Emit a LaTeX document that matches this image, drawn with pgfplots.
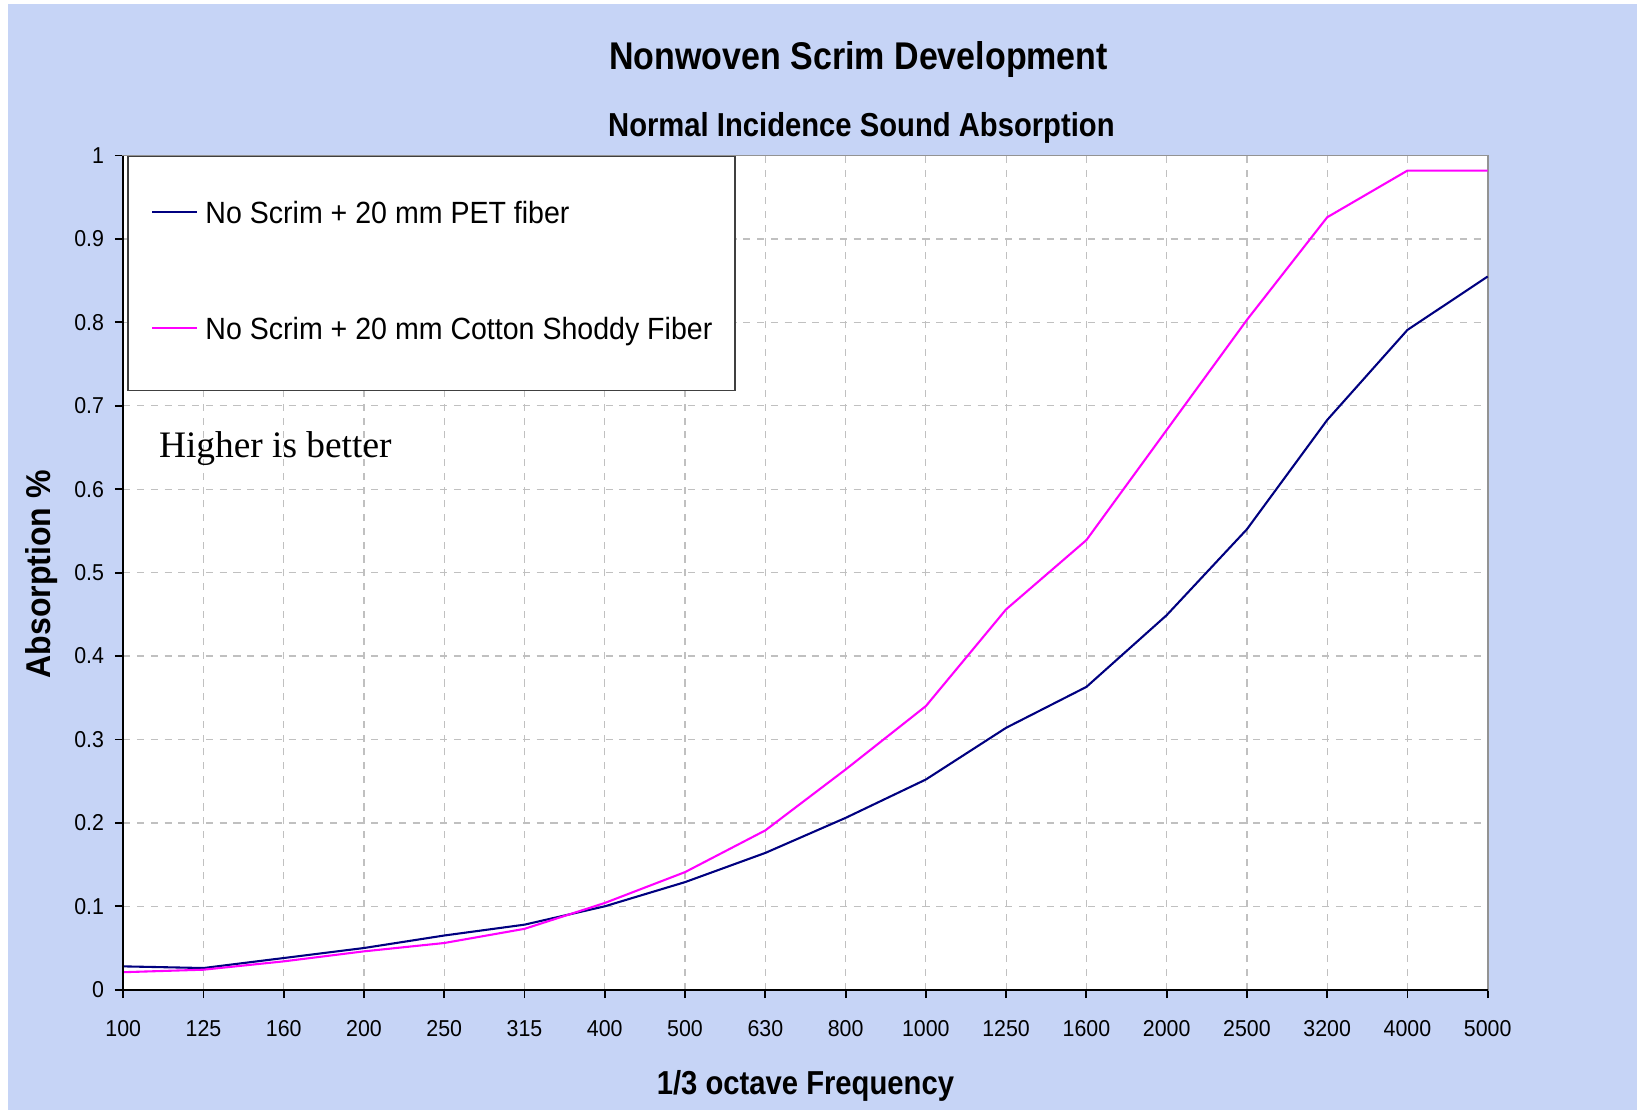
\documentclass[border=0pt]{standalone}
\usepackage{pgfplots}
\pgfplotsset{compat=1.18}
\usepackage{fontspec}
\setmainfont{Liberation Sans}
\newfontfamily\timesfont{Liberation Serif}
\newfontfamily\condfont[FakeStretch=0.88]{Liberation Sans}
\newfontfamily\legfont[FakeStretch=0.93]{Liberation Sans}
\definecolor{bgcol}{RGB}{198,212,246}
\definecolor{pet}{RGB}{0,0,128}
\definecolor{cot}{RGB}{255,0,255}
\definecolor{gridc}{RGB}{192,192,192}
\begin{document}
\begin{tikzpicture}
\fill[white] (0pt,0pt) rectangle (784pt,533.5pt);
\fill[bgcol] (4pt,2pt) rectangle (784pt,531.5pt);
\begin{axis}[
  at={(59pt,59.5pt)}, anchor=south west,
  scale only axis, width=653.5pt, height=399.5pt,
  xmin=0, xmax=17, ymin=0, ymax=1,
  clip=false,
  axis background/.style={fill=white},
  xtick={0,1,...,17},
  xticklabels={100,125,160,200,250,315,400,500,630,800,1000,1250,1600,2000,2500,3200,4000,5000},
  ytick={0,0.1,0.2,0.3,0.4,0.5,0.6,0.7,0.8,0.9,1},
  yticklabels={0,0.1,0.2,0.3,0.4,0.5,0.6,0.7,0.8,0.9,1},
  xtick pos=bottom, ytick pos=left,
  tick align=outside, major tick length=4pt,
  tick style={black, line width=0.9pt},
  ticklabel style={font=\legfont\fontsize{11}{13}\selectfont},
  xticklabel style={inner sep=0pt, anchor=north, yshift=-10.5pt},
  yticklabel style={inner sep=0pt, anchor=east, xshift=-5pt},
  grid=major,
  major grid style={gridc, line width=0.6pt, dash pattern=on 3.4pt off 3.2pt},
  axis line style={draw=gray!85, line width=0.9pt},
  title={Nonwoven Scrim Development},
  title style={at={(rel axis cs:0.539,1)}, anchor=base, yshift=35pt, inner sep=0pt, font=\condfont\bfseries\fontsize{18.5}{21}\selectfont},
  xlabel={1/3 octave Frequency},
  xlabel style={at={(rel axis cs:0.5,0)}, anchor=base, yshift=-50pt, inner sep=0pt, font=\condfont\bfseries\fontsize{15.9}{18}\selectfont},
  ylabel={Absorption \%},
  ylabel style={at={(rel axis cs:0,0.498)}, anchor=center, yshift=39pt, inner sep=0pt, font=\legfont\bfseries\fontsize{16.5}{19}\selectfont},
  legend style={at={(rel axis cs:0.00306,1)}, anchor=north west,
    draw=black!75, line width=0.8pt, fill=white,
    inner xsep=11pt, inner ysep=21.5pt, row sep=41.9pt, column sep=3.5pt,
    nodes={inner sep=0pt, text height=10.5pt, text depth=3.1pt},
    font=\legfont\fontsize{14.7}{17}\selectfont},
  legend cell align=left,
  legend image code/.code={\draw[#1, line width=1pt] (0pt,1.6pt) -- (21.5pt,1.6pt);},
]
\addplot[pet, line width=1pt] coordinates {
(0,0.028) (1,0.026) (2,0.038) (3,0.050) (4,0.065) (5,0.078) (6,0.100) (7,0.129) (8,0.164)
(9,0.206) (10,0.252) (11,0.314) (12,0.363) (13,0.449) (14,0.552) (15,0.683) (16,0.791) (17,0.855)};
\addlegendentry{No Scrim + 20 mm PET fiber}
\addplot[cot, line width=1pt] coordinates {
(0,0.021) (1,0.024) (2,0.034) (3,0.046) (4,0.056) (5,0.073) (6,0.104) (7,0.141) (8,0.191)
(9,0.264) (10,0.340) (11,0.456) (12,0.539) (13,0.671) (14,0.803) (15,0.926) (16,0.982) (17,0.982)};
\addlegendentry{No Scrim + 20 mm Cotton Shoddy Fiber}
\draw[black, line width=1pt] (rel axis cs:0,1) -- (rel axis cs:0,0) -- (rel axis cs:1,0);
\node[anchor=base, inner sep=0pt, font=\condfont\bfseries\fontsize{15.9}{18}\selectfont] at (rel axis cs:0.541,1) [yshift=9pt] {Normal Incidence Sound Absorption};
\node[anchor=base west, inner sep=0pt, font=\timesfont\fontsize{17.9}{21}\selectfont] at (rel axis cs:0.026,0.638) {Higher is better};
\end{axis}
\end{tikzpicture}
\end{document}
